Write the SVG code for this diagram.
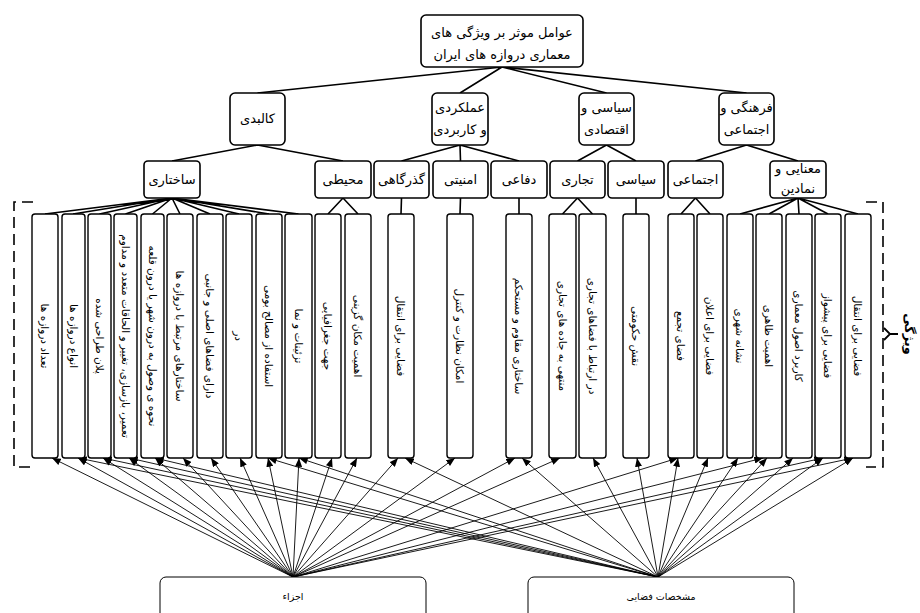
<svg xmlns="http://www.w3.org/2000/svg" width="920" height="613" viewBox="0 0 920 613">
<defs>
<style>
.box{fill:#fff;stroke:#000;stroke-width:1.6}
.col{fill:#fff;stroke:#000;stroke-width:1.4}
.bb{fill:#fff;stroke:#000;stroke-width:1}
.t{font-family:"DejaVu Sans",sans-serif;font-size:13px;text-anchor:middle;fill:#000}
.ct{font-size:10.5px;dominant-baseline:central}
.sm{font-size:9.5px}
.e{stroke:#000;stroke-width:1.6;fill:none}
.a{stroke:#000;stroke-width:0.9;fill:none;marker-end:url(#ah)}
.br{stroke:#000;stroke-width:1.6;fill:none;stroke-dasharray:11 6}
</style>
<marker id="ah" viewBox="0 0 10 8" refX="10" refY="4" markerWidth="9" markerHeight="7" markerUnits="userSpaceOnUse" orient="auto">
<path d="M0,0 L10,4 L0,8 z" fill="#000"/>
</marker>
</defs>
<g id="connectors">
<path class="e" d="M502,67 L257.5,93 M502,67 L460,93 M502,67 L606.5,93 M502,67 L746.5,93"/>
<path class="e" d="M257.5,145 L172,161 M257.5,145 L343,161"/>
<path class="e" d="M460,145 L401.5,161 M460,145 L460.5,161 M460,145 L519,161"/>
<path class="e" d="M606.5,145 L577.5,161 M606.5,145 L636,161"/>
<path class="e" d="M746.5,145 L695.5,161 M746.5,145 L798,161"/>
<path class="e" d="M172,198 L45,214 M172,198 L73,214 M172,198 L99.5,214 M172,198 L125.5,214 M172,198 L152.5,214 M172,198 L180,214 M172,198 L210,214 M172,198 L239,214 M172,198 L269,214 M172,198 L298.5,214"/>
<path class="e" d="M343,198 L328,214 M343,198 L358,214"/>
<path class="e" d="M401.5,198 L401,214 M460.5,198 L460,214 M519,198 L519,214"/>
<path class="e" d="M577.5,198 L562.5,214 M577.5,198 L592.5,214 M636,198 L636,214"/>
<path class="e" d="M695.5,198 L681,214 M695.5,198 L710,214"/>
<path class="e" d="M798,198 L740,214 M798,198 L769,214 M798,198 L799,214 M798,198 L828,214 M798,198 L858,214"/>
<g id="arrows-ajza">
<path class="a" d="M293,577 L52,458"/>
<path class="a" d="M293,577 L78,458"/>
<path class="a" d="M293,577 L103,458"/>
<path class="a" d="M293,577 L129,458"/>
<path class="a" d="M293,577 L155,458"/>
<path class="a" d="M293,577 L183,458"/>
<path class="a" d="M293,577 L211,458"/>
<path class="a" d="M293,577 L240,458"/>
<path class="a" d="M293,577 L268,458"/>
<path class="a" d="M293,577 L299,458"/>
<path class="a" d="M293,577 L332,458"/>
<path class="a" d="M293,577 L357,458"/>
<path class="a" d="M293,577 L398,458"/>
<path class="a" d="M293,577 L455,458"/>
<path class="a" d="M293,577 L515,458"/>
<path class="a" d="M293,577 L560,458"/>
<path class="a" d="M293,577 L678,458"/>
<path class="a" d="M293,577 L763,458"/>
<path class="a" d="M293,577 L823,458"/>
<path class="a" d="M293,577 L853,458"/>
</g>
<g id="arrows-fazaei">
<path class="a" d="M658,577 L78,458"/>
<path class="a" d="M658,577 L103,458"/>
<path class="a" d="M658,577 L129,458"/>
<path class="a" d="M658,577 L155,458"/>
<path class="a" d="M658,577 L268,458"/>
<path class="a" d="M658,577 L299,458"/>
<path class="a" d="M658,577 L405,458"/>
<path class="a" d="M658,577 L522,458"/>
<path class="a" d="M658,577 L593,458"/>
<path class="a" d="M658,577 L637,458"/>
<path class="a" d="M658,577 L678,458"/>
<path class="a" d="M658,577 L708,458"/>
<path class="a" d="M658,577 L738,458"/>
<path class="a" d="M658,577 L767,458"/>
<path class="a" d="M658,577 L793,458"/>
<path class="a" d="M658,577 L823,458"/>
<path class="a" d="M658,577 L853,458"/>
</g>
</g>
<g id="brackets">
<path class="br" d="M33,202 L14,202 L14,467 L33,467"/>
<path class="br" d="M866,202 L883,202 L883,467 L866,467"/>
<path d="M884,328 L890,334 L884,340 M890,334 L898,334" stroke="#000" stroke-width="1.8" fill="none"/>
<text class="t" transform="translate(909,334) rotate(90)" style="font-size:13px;font-weight:bold;dominant-baseline:central">ویژگی</text>
</g>
<g id="title"><rect class="box" x="421" y="15" width="162" height="52" rx="5"/><text class="t" x="502" y="37">عوامل موثر بر ویژگی های</text><text class="t" x="502" y="59">معماری دروازه های ایران</text></g>
<g id="kalbadi"><rect class="box" x="230" y="93" width="55" height="52" rx="5"/><text class="t" x="257.5" y="123">کالبدی</text></g>
<g id="amalkardi"><rect class="box" x="432" y="93" width="56" height="52" rx="5"/><text class="t" x="460" y="112">عملکردی</text><text class="t" x="460" y="134">و کاربردی</text></g>
<g id="siasi-eqtesadi"><rect class="box" x="579" y="93" width="55" height="52" rx="5"/><text class="t" x="606.5" y="112">سیاسی و</text><text class="t" x="606.5" y="134">اقتصادی</text></g>
<g id="farhangi"><rect class="box" x="719" y="93" width="55" height="52" rx="5"/><text class="t" x="746.5" y="112">فرهنگی و</text><text class="t" x="746.5" y="134">اجتماعی</text></g>
<g id="sakhtari"><rect class="box" x="144" y="161" width="56" height="37" rx="4"/><text class="t" x="172" y="184">ساختاری</text></g>
<g id="mohiti"><rect class="box" x="315" y="161" width="56" height="37" rx="4"/><text class="t" x="343" y="184">محیطی</text></g>
<g id="gozargahi"><rect class="box" x="374" y="161" width="55" height="37" rx="4"/><text class="t" x="401.5" y="184">گذرگاهی</text></g>
<g id="amniati"><rect class="box" x="433" y="161" width="55" height="37" rx="4"/><text class="t" x="460.5" y="184">امنیتی</text></g>
<g id="defaei"><rect class="box" x="491" y="161" width="56" height="37" rx="4"/><text class="t" x="519" y="184">دفاعی</text></g>
<g id="tejari"><rect class="box" x="550" y="161" width="55" height="37" rx="4"/><text class="t" x="577.5" y="184">تجاری</text></g>
<g id="siasi"><rect class="box" x="608" y="161" width="56" height="37" rx="4"/><text class="t" x="636" y="184">سیاسی</text></g>
<g id="ejtemaei"><rect class="box" x="668" y="161" width="55" height="37" rx="4"/><text class="t" x="695.5" y="184">اجتماعی</text></g>
<g id="manaei"><rect class="box" x="770" y="161" width="56" height="37" rx="4"/><text class="t" x="798" y="173">معنایی و</text><text class="t" x="798" y="193">نمادین</text></g>
<g id="c1"><rect class="col" x="32" y="214" width="26" height="244" rx="3"/><text class="t ct" transform="translate(45,336) rotate(90)">تعداد دروازه ها</text></g>
<g id="c2"><rect class="col" x="62" y="214" width="23" height="244" rx="3"/><text class="t ct" transform="translate(73.5,336) rotate(90)">انواع دروازه ها</text></g>
<g id="c3"><rect class="col" x="88" y="214" width="23" height="244" rx="3"/><text class="t ct" transform="translate(99.5,336) rotate(90)">پلان طراحی شده</text></g>
<g id="c4"><rect class="col" x="114" y="214" width="23" height="244" rx="3"/><text class="t ct" transform="translate(125.5,336) rotate(90)">تعمیر، بازسازی، تغییر و الحاقات متعدد و مداوم</text></g>
<g id="c5"><rect class="col" x="141" y="214" width="23" height="244" rx="3"/><text class="t ct" transform="translate(152.5,336) rotate(90)">نحوه ی وصول به درون شهر یا درون قلعه</text></g>
<g id="c6"><rect class="col" x="167" y="214" width="26" height="244" rx="3"/><text class="t ct" transform="translate(180,336) rotate(90)">ساختارهای مرتبط با دروازه ها</text></g>
<g id="c7"><rect class="col" x="197" y="214" width="26" height="244" rx="3"/><text class="t ct" transform="translate(210,336) rotate(90)">دارای فضاهای اصلی و جانبی</text></g>
<g id="c8"><rect class="col" x="226" y="214" width="26" height="244" rx="3"/><text class="t ct" transform="translate(239,336) rotate(90)">در</text></g>
<g id="c9"><rect class="col" x="256" y="214" width="26" height="244" rx="3"/><text class="t ct" transform="translate(269,336) rotate(90)">استفاده از مصالح بومی</text></g>
<g id="c10"><rect class="col" x="285" y="214" width="27" height="244" rx="3"/><text class="t ct" transform="translate(298.5,336) rotate(90)">تزئینات و نما</text></g>
<g id="c11"><rect class="col" x="315" y="214" width="26" height="244" rx="3"/><text class="t ct" transform="translate(328,336) rotate(90)">جهت جغرافیایی</text></g>
<g id="c12"><rect class="col" x="345" y="214" width="26" height="244" rx="3"/><text class="t ct" transform="translate(358,336) rotate(90)">اهمیت مکان گزینی</text></g>
<g id="c13"><rect class="col" x="388" y="214" width="26" height="244" rx="3"/><text class="t ct" transform="translate(401,336) rotate(90)">فضایی برای انتقال</text></g>
<g id="c14"><rect class="col" x="447" y="214" width="26" height="244" rx="3"/><text class="t ct" transform="translate(460,336) rotate(90)">امکان نظارت و کنترل</text></g>
<g id="c15"><rect class="col" x="506" y="214" width="26" height="244" rx="3"/><text class="t ct" transform="translate(519,336) rotate(90)">ساختاری مقاوم و مستحکم</text></g>
<g id="c16"><rect class="col" x="549" y="214" width="27" height="244" rx="3"/><text class="t ct" transform="translate(562.5,336) rotate(90)">منتهی به جاده های تجاری</text></g>
<g id="c17"><rect class="col" x="579" y="214" width="27" height="244" rx="3"/><text class="t ct" transform="translate(592.5,336) rotate(90)">در ارتباط با فضاهای تجاری</text></g>
<g id="c18"><rect class="col" x="623" y="214" width="26" height="244" rx="3"/><text class="t ct" transform="translate(636,336) rotate(90)">نقش حکومتی</text></g>
<g id="c19"><rect class="col" x="668" y="214" width="26" height="244" rx="3"/><text class="t ct" transform="translate(681,336) rotate(90)">فضای تجمع</text></g>
<g id="c20"><rect class="col" x="697" y="214" width="26" height="244" rx="3"/><text class="t ct" transform="translate(710,336) rotate(90)">فضایی برای اعلان</text></g>
<g id="c21"><rect class="col" x="727" y="214" width="26" height="244" rx="3"/><text class="t ct" transform="translate(740,336) rotate(90)">نشانه شهری</text></g>
<g id="c22"><rect class="col" x="756" y="214" width="26" height="244" rx="3"/><text class="t ct" transform="translate(769,336) rotate(90)">اهمیت ظاهری</text></g>
<g id="c23"><rect class="col" x="786" y="214" width="26" height="244" rx="3"/><text class="t ct" transform="translate(799,336) rotate(90)">کاربرد اصول معماری</text></g>
<g id="c24"><rect class="col" x="815" y="214" width="26" height="244" rx="3"/><text class="t ct" transform="translate(828,336) rotate(90)">فضایی برای پیشواز</text></g>
<g id="c25"><rect class="col" x="845" y="214" width="26" height="244" rx="3"/><text class="t ct" transform="translate(858,336) rotate(90)">فضایی برای انتقال</text></g>
<g id="ajza"><rect class="bb" x="160" y="577" width="266" height="44" rx="6"/><text class="t sm" x="293" y="600">اجزاء</text></g>
<g id="moshakhasat"><rect class="bb" x="528" y="577" width="266" height="44" rx="6"/><text class="t sm" x="661" y="600">مشخصات فضایی</text></g>
</svg>
